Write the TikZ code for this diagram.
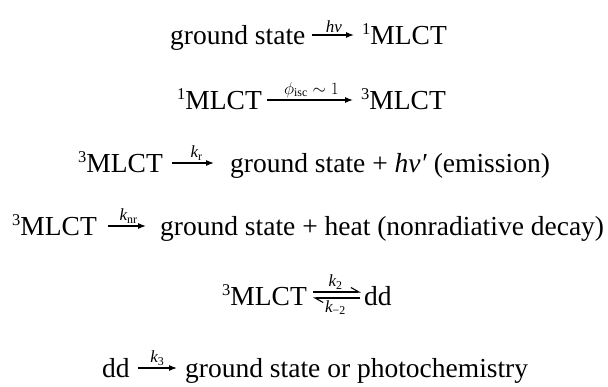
\documentclass[tikz,border=0pt]{standalone}
\usepackage{fontspec}
\setmainfont{Liberation Serif}
\usetikzlibrary{arrows.meta,calc}
\newcommand{\mysup}[1]{\raisebox{0.34em}{\fontsize{16.5}{17}\selectfont #1}}
\newcommand{\mysub}[1]{\textsubscript{\upshape #1}}
\begin{document}
\begin{tikzpicture}[x=1pt,y=-1pt,
  txt/.style={font=\fontsize{27.5}{30}\selectfont, inner sep=0pt, anchor=base west},
  lab/.style={font=\fontsize{17}{19}\selectfont\itshape, inner sep=2pt},
  rxn/.style={-{Latex[length=8pt,width=6pt]}, line width=1.1pt},
  harp/.style={-{Straight Barb[left,length=8pt,width=9pt]}, line width=1.1pt},
]
\useasboundingbox (0,0) rectangle (608,386);

% line 1
\node[txt] (g1) at (170,44) {ground state};
\node[txt] (m1) at (362,44) {\mysup{1}MLCT};
\draw[rxn, shorten <=6pt, shorten >=8pt] ($(g1.base east)+(0,-9)$) -- ($(m1.base west)+(0,-9)$)
  node[lab, midway, above] {hν};

% line 2
\node[txt] (s2) at (177,109) {\mysup{1}MLCT};
\node[txt] (t2) at (361,109) {\mysup{3}MLCT};
\draw[rxn, shorten <=5pt, shorten >=8pt] ($(s2.base east)+(0,-9)$) -- ($(t2.base west)+(0,-9)$)
  node[lab, midway, above, font=\fontsize{17}{19}\selectfont] {$\phi_{\mathrm{isc}}\sim 1$};

% line 3
\node[txt] (t3) at (78,172) {\mysup{3}MLCT};
\node[txt] (g3) at (230,172) {ground state + \textit{hν′} (emission)};
\draw[rxn, shorten <=9pt, shorten >=16pt] ($(t3.base east)+(0,-9)$) -- ($(g3.base west)+(0,-9)$)
  node[lab, midway, above] {k\mysub{r}};

% line 4
\node[txt] (t4) at (12,235) {\mysup{3}MLCT};
\node[txt] (g4) at (160,235) {ground state + heat (nonradiative decay)};
\draw[rxn, shorten <=11pt, shorten >=14pt] ($(t4.base east)+(0,-9)$) -- ($(g4.base west)+(0,-9)$)
  node[lab, midway, above] {k\mysub{nr}};

% line 5
\node[txt] (t5) at (222,305) {\mysup{3}MLCT};
\node[txt] (d5) at (364,305) {dd};
\draw[harp, shorten <=6pt, shorten >=3pt] ($(t5.base east)+(0,-13)$) -- ($(d5.base west)+(0,-13)$)
  node[lab, midway, above] {k\mysub{2}};
\draw[harp, shorten <=4pt, shorten >=6pt] ($(d5.base west)+(0,-7)$) -- ($(t5.base east)+(0,-7)$)
  node[lab, midway, below] {k\mysub{−2}};

% line 6
\node[txt] (d6) at (102,377) {dd};
\node[txt] (g6) at (185,377) {ground state or photochemistry};
\draw[rxn, shorten <=8pt, shorten >=8pt] ($(d6.base east)+(0,-9)$) -- ($(g6.base west)+(0,-9)$)
  node[lab, midway, above] {k\mysub{3}};
\end{tikzpicture}
\end{document}
